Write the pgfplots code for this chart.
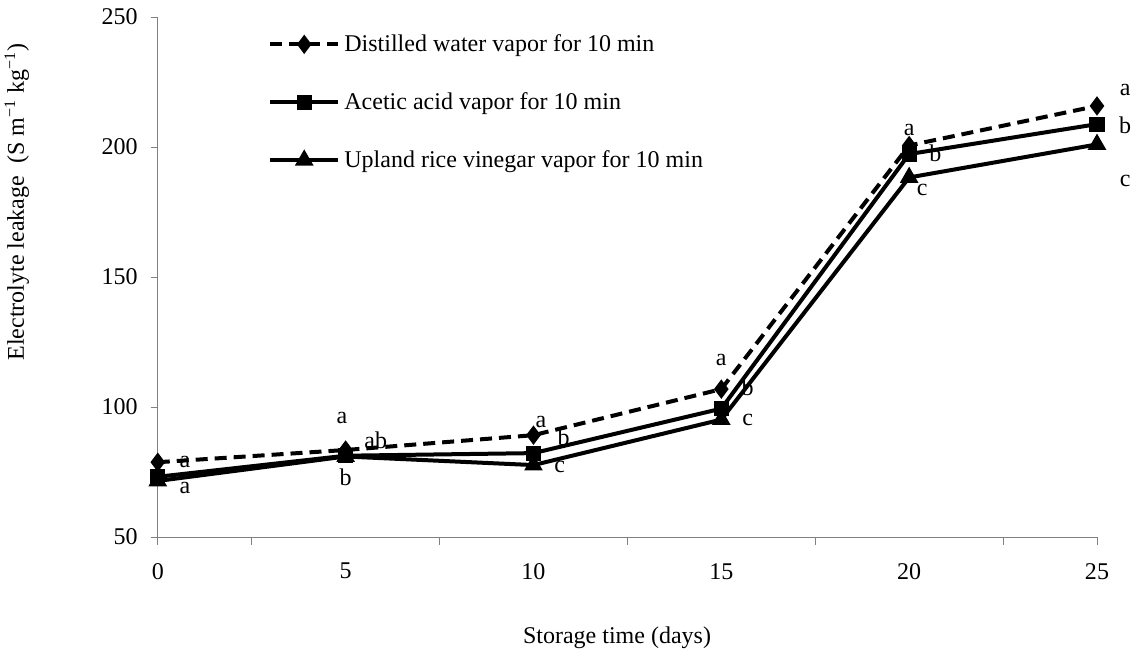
\documentclass[border=0pt]{standalone}
\usepackage{fontspec}
\setmainfont{Liberation Serif}
\usepackage{pgfplots}
\pgfplotsset{compat=1.18}

\begin{document}
\begin{tikzpicture}[font=\fontsize{12}{14}\selectfont]
\begin{axis}[
  scale only axis, width=469.5pt, height=260pt,
  xmin=0, xmax=25, ymin=50, ymax=250,
  axis lines=left, axis line style={gray, -, line width=0.5pt},
  clip=false,
  xtick={0,5,...,25}, ytick={50,100,...,250},
  minor xtick={0,2.5,7.5,12.5,17.5,22.5,25},
  major x tick style={draw=none},
  minor x tick style={gray, line width=0.5pt},
  y tick style={gray, line width=0.5pt},
  tick align=outside, major tick length=3.5pt, minor tick length=4pt,
  xticklabel style={yshift=-6pt},
  yticklabel style={xshift=-3pt},
  /pgf/number format/assume math mode=true,
  tick label style={font=\fontsize{12}{14}\selectfont},
  label style={font=\fontsize{12}{14}\selectfont},
  xlabel={Storage time (days)},
  xlabel style={at={(axis description cs:0.489,-0.194)}, anchor=center},
  ylabel={Electrolyte leakage~ (S m\textsuperscript{−1} kg\textsuperscript{−1})},
  ylabel style={at={(axis description cs:-0.15,0.644)}, anchor=center},
  legend style={draw=none, fill=none, at={(0.117,0.975)}, anchor=north west,
    inner sep=0pt, row sep=15pt, font=\fontsize{12}{14}\selectfont,
    cells={anchor=west}},
  legend image code/.code={\draw[mark repeat=2,mark phase=2] plot coordinates {(0cm,0cm) (0.6cm,0cm) (1.2cm,0cm)};},
]
% distilled water
\addplot[black, line width=2pt, dash pattern=on 6pt off 3.5pt, mark=diamond*, mark size=3.2pt, mark options={solid}]
  coordinates {(0,78.8) (5,83.5) (10,89.2) (15,106.9) (20,200.6) (25,215.8)};
\addlegendentry{Distilled water vapor for 10 min}
% acetic acid
\addplot[black, line width=2pt, mark=square*, mark size=2.8pt]
  coordinates {(0,73.2) (5,81.3) (10,82.3) (15,99.4) (20,197.3) (25,208.8)};
\addlegendentry{Acetic acid vapor for 10 min}
% upland rice vinegar
\addplot[black, line width=2pt, mark=triangle*, mark size=3.4pt]
  coordinates {(0,71.6) (5,81.0) (10,77.7) (15,95.2) (20,188.3) (25,201.0)};
\addlegendentry{Upland rice vinegar vapor for 10 min}

% significance letters
\begin{scope}[every node/.style={inner sep=0.5pt}]
\node at (axis cs:0.72,79.0) {a};
\node at (axis cs:0.72,69.0) {a};
\node at (axis cs:4.9,96) {a};
\node at (axis cs:5.8,87.3) {ab};
\node at (axis cs:5.0,73) {b};
\node at (axis cs:10.2,94.2) {a};
\node at (axis cs:10.8,88.5) {b};
\node at (axis cs:10.7,77) {c};
\node at (axis cs:15.0,118) {a};
\node at (axis cs:15.7,107.7) {b};
\node at (axis cs:15.7,95) {c};
\node at (axis cs:20.0,206.5) {a};
\node at (axis cs:20.7,197.7) {b};
\node at (axis cs:20.35,183.5) {c};
\node at (axis cs:25.75,222) {a};
\node at (axis cs:25.75,208.5) {b};
\node at (axis cs:25.75,187) {c};
\end{scope}
\coordinate (bbsw) at (rel axis cs:-0.168,-0.2308);
\coordinate (bbne) at (rel axis cs:1.0426,1.0327);
\end{axis}
\pgfresetboundingbox
\path[use as bounding box] (bbsw) rectangle (bbne);
\end{tikzpicture}
\end{document}
